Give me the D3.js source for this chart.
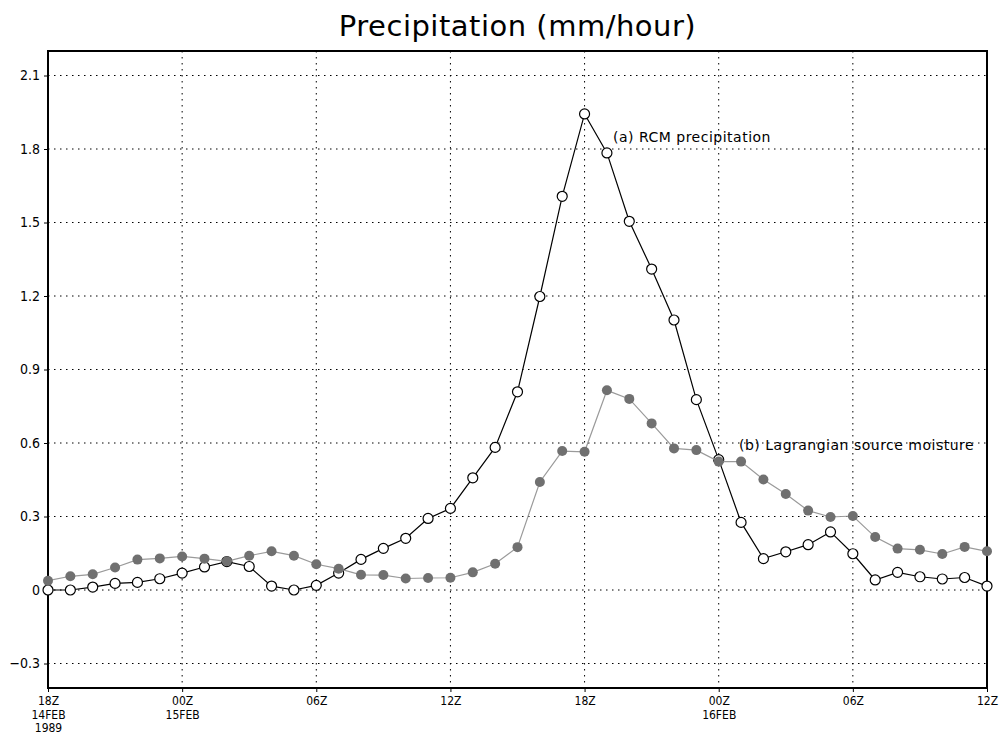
<!DOCTYPE html>
<html lang="en">
<head>
<meta charset="utf-8">
<title>Precipitation (mm/hour)</title>
<script src="https://cdn.jsdelivr.net/npm/d3@7"></script>
<style>
    body { margin: 0; background: #fff; }
    text { font-family: "DejaVu Sans Condensed", "DejaVu Sans", sans-serif; fill: #000; }
    .grid line { stroke: #000; stroke-width: 1; stroke-dasharray: 1.5,4.5; }
</style>
</head>
<body>
<script>
// hourly values from 18Z 14FEB1989 to 12Z 16FEB1989
var rcm = [0.0, 0.0, 0.012, 0.027, 0.031, 0.046, 0.069, 0.094, 0.116, 0.096, 0.016, 0.0, 0.019,
    0.069, 0.125, 0.170, 0.211, 0.292, 0.333, 0.458, 0.582, 0.809, 1.198, 1.607, 1.943, 1.784,
    1.505, 1.310, 1.102, 0.777, 0.532, 0.276, 0.128, 0.156, 0.185, 0.237, 0.148, 0.041, 0.072,
    0.054, 0.045, 0.051, 0.016];
var lagrangian = [0.038, 0.056, 0.064, 0.092, 0.124, 0.129, 0.137, 0.128, 0.117, 0.140, 0.158,
    0.140, 0.105, 0.087, 0.062, 0.061, 0.047, 0.049, 0.050, 0.072, 0.107, 0.175, 0.441, 0.567,
    0.564, 0.815, 0.780, 0.680, 0.578, 0.571, 0.524, 0.524, 0.451, 0.392, 0.324, 0.298, 0.302,
    0.216, 0.169, 0.164, 0.147, 0.176, 0.158];
var startTime = Date.UTC(1989, 1, 14, 18);
var yTicks = [-0.3, 0, 0.3, 0.6, 0.9, 1.2, 1.5, 1.8, 2.1];
var xTickLabels = [["18Z", "14FEB", "1989"], ["00Z", "15FEB"], ["06Z"], ["12Z"],
    ["18Z"], ["00Z", "16FEB"], ["06Z"], ["12Z"]];
var seriesLabels = ["(a) RCM precipitation", "(b) Lagrangian source moisture"];

var width = 1003, height = 735;
var margin = {top: 51, right: 16, bottom: 47, left: 48};

var times = rcm.map(function(d, i) { return new Date(startTime + i * 3600e3); });

var x = d3.scaleUtc()
    .domain([times[0], times[times.length - 1]])
    .range([margin.left, width - margin.right]);
var y = d3.scaleLinear()
    .domain([-0.4, 2.2])
    .range([height - margin.bottom, margin.top]);

var xTicks = x.ticks(d3.utcHour.every(6));

var svg = d3.select("body").append("svg")
    .attr("width", width).attr("height", height);

// title
svg.append("text")
    .attr("x", (margin.left + width - margin.right) / 2)
    .attr("y", 36)
    .attr("text-anchor", "middle")
    .style("font-family", "'DejaVu Sans', sans-serif")
    .style("font-size", "29px")
    .style("letter-spacing", "0.5px")
    .text("Precipitation (mm/hour)");

// dotted grid
var grid = svg.append("g").attr("class", "grid");
grid.selectAll(".h").data(yTicks).enter().append("line")
    .attr("x1", margin.left).attr("x2", width - margin.right)
    .attr("y1", function(d) { return y(d); }).attr("y2", function(d) { return y(d); });
grid.selectAll(".v").data(xTicks.slice(1, -1)).enter().append("line")
    .attr("y1", margin.top).attr("y2", height - margin.bottom)
    .attr("x1", function(d) { return x(d); }).attr("x2", function(d) { return x(d); });

// axes
var yAxis = svg.append("g")
    .attr("transform", "translate(" + margin.left + ",0)")
    .call(d3.axisLeft(y).tickValues(yTicks).tickSize(4).tickPadding(4)
        .tickFormat(function(d) { return d === 0 ? "0" : d3.format(".1f")(d).replace("-", "\u2212"); }));
yAxis.select(".domain").remove();
yAxis.selectAll("text").style("font-size", "14px");

var xAxis = svg.append("g")
    .attr("transform", "translate(0," + (height - margin.bottom) + ")")
    .call(d3.axisBottom(x).tickValues(xTicks).tickSize(4).tickFormat(""));
xAxis.select(".domain").remove();
xAxis.selectAll(".tick").each(function(d, i) {
    var g = d3.select(this);
    xTickLabels[i].forEach(function(s, k) {
        g.append("text")
            .attr("y", 17 + k * 13.5)
            .attr("text-anchor", "middle")
            .style("font-size", "12px")
            .text(s);
    });
});

// frame
svg.append("rect")
    .attr("x", margin.left).attr("y", margin.top)
    .attr("width", width - margin.left - margin.right)
    .attr("height", height - margin.top - margin.bottom)
    .style("fill", "none").style("stroke", "#000").style("stroke-width", 2);

var line = d3.line()
    .x(function(d, i) { return x(times[i]); })
    .y(function(d) { return y(d); });

// (a) RCM precipitation: black line, open circles
svg.append("path").datum(rcm)
    .attr("d", line)
    .style("fill", "none").style("stroke", "#000").style("stroke-width", 1.2);
svg.selectAll(".rcm").data(rcm).enter().append("circle")
    .attr("class", "rcm")
    .attr("cx", function(d, i) { return x(times[i]); })
    .attr("cy", function(d) { return y(d); })
    .attr("r", 5)
    .style("fill", "#fff").style("stroke", "#000").style("stroke-width", 1.2);

// (b) Lagrangian source moisture: grey line, filled circles
svg.append("path").datum(lagrangian)
    .attr("d", line)
    .style("fill", "none").style("stroke", "#9a9a9a").style("stroke-width", 1.2);
svg.selectAll(".lag").data(lagrangian).enter().append("circle")
    .attr("class", "lag")
    .attr("cx", function(d, i) { return x(times[i]); })
    .attr("cy", function(d) { return y(d); })
    .attr("r", 5)
    .style("fill", "#707070");

// series labels
svg.append("text")
    .attr("x", 613).attr("y", 142)
    .style("font-family", "'DejaVu Sans', sans-serif")
    .style("font-size", "14px").style("letter-spacing", "0.5px")
    .text(seriesLabels[0]);
svg.append("text")
    .attr("x", 739).attr("y", 450)
    .style("font-family", "'DejaVu Sans', sans-serif")
    .style("font-size", "14px").style("letter-spacing", "0.5px")
    .text(seriesLabels[1]);
</script>
</body>
</html>
